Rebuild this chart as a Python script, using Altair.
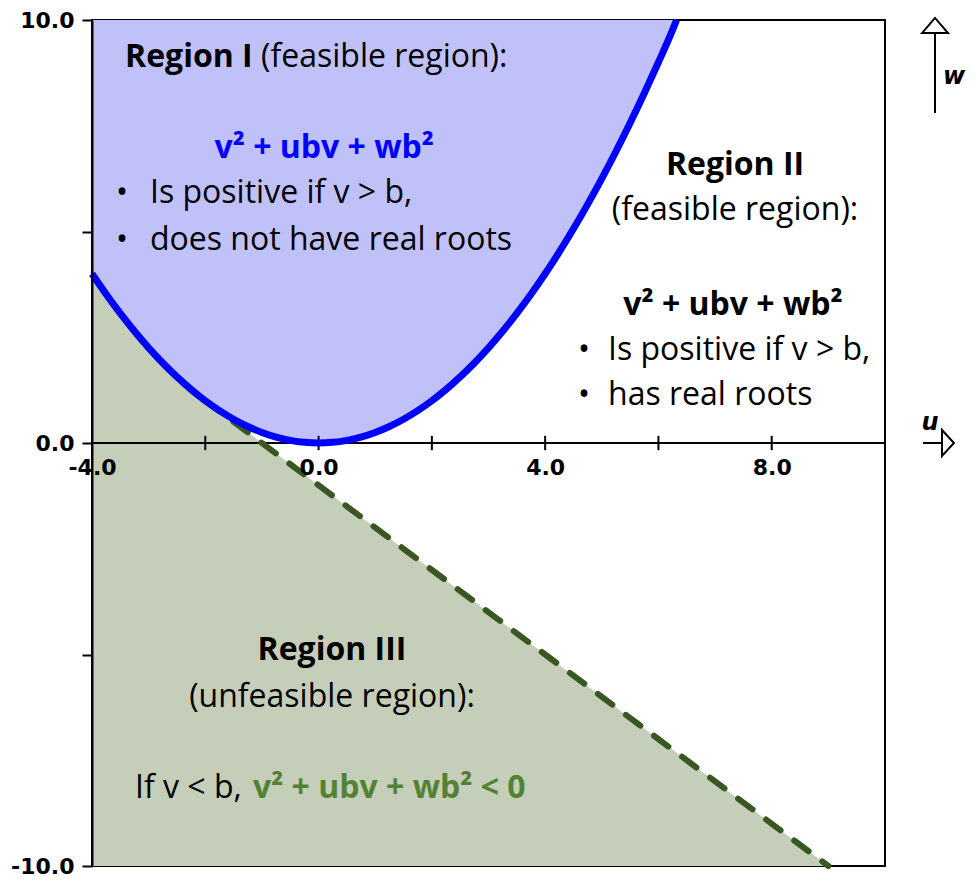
import altair as alt
import pandas as pd

# ---------------- data ----------------
# Boundary curve between Region I and Region II (w against u)
curve_u = [-4.0, -3.75, -3.5, -3.25, -3.0, -2.75, -2.5, -2.25, -2.0, -1.75, -1.5,
           -1.25, -1.0, -0.75, -0.5, -0.25, 0.0, 0.25, 0.5, 0.75, 1.0, 1.25, 1.5,
           1.75, 2.0, 2.25, 2.5, 2.75, 3.0, 3.25, 3.5, 3.75, 4.0, 4.25, 4.5, 4.75,
           5.0, 5.25, 5.5, 5.75, 6.0, 6.25, 6.32]
curve_w = [4.0, 3.516, 3.063, 2.641, 2.25, 1.891, 1.563, 1.266, 1.0, 0.766, 0.563,
           0.391, 0.25, 0.141, 0.063, 0.016, 0.0, 0.016, 0.063, 0.141, 0.25, 0.391,
           0.563, 0.766, 1.0, 1.266, 1.563, 1.891, 2.25, 2.641, 3.063, 3.516, 4.0,
           4.516, 5.063, 5.641, 6.25, 6.891, 7.563, 8.266, 9.0, 9.766, 10.0]

# Upper edge of Region III (curve up to the tangent point, then the dashed line)
region3_u = [-4.0, -3.75, -3.5, -3.25, -3.0, -2.75, -2.5, -2.25, -2.0, 9.0]
region3_w = [4.0, 3.516, 3.063, 2.641, 2.25, 1.891, 1.563, 1.266, 1.0, -10.0]

# Dashed boundary line
line_u = [-2.0, 9.0]
line_w = [1.0, -10.0]

# Axis ticks / labels
xtick_u = [-2, 0, 2, 4, 6, 8]
xlabel_u = [-4, 0, 4, 8]
ytick_w = [-10, -5, 0, 5, 10]

# ---------------- styling ----------------
TXT = "Open Sans"
AX = "DejaVu Sans"
BLUE_FILL = "#C1C1FA"
GREEN_FILL = "#C5CEB9"
BLUE = "#0000FF"
DARK_GREEN = "#385723"
TEXT_GREEN = "#548235"

x_scale = alt.Scale(domain=[-4, 10], nice=False, zero=False)
y_scale = alt.Scale(domain=[-10, 10], nice=False, zero=False)

lab_expr = "(datum.value < 0 ? '-' : '') + format(abs(datum.value), '.1f')"

x_axis = alt.Axis(values=xlabel_u, labelExpr=lab_expr, offset=-423, domain=False,
                  ticks=False, grid=False, title=None, labelPadding=14,
                  labelFlush=False, zindex=1)
y_axis = alt.Axis(values=ytick_w,
                  labelExpr="datum.value % 10 == 0 ? " + lab_expr + " : ''",
                  grid=False, title=None, domainColor="black", domainWidth=2,
                  tickColor="black", tickWidth=2, tickSize=10, labelPadding=8,
                  labelFlush=False, zindex=1)

df_curve = pd.DataFrame({"u": curve_u, "w": curve_w})
df_r3 = pd.DataFrame({"u": region3_u, "w": region3_w})
df_line = pd.DataFrame({"u": line_u, "w": line_w})
df_ticks = pd.DataFrame({"u": xtick_u})
one = pd.DataFrame({"k": [0]})

region3 = alt.Chart(df_r3).mark_area(color=GREEN_FILL, orient="vertical", opacity=1).encode(
    x=alt.X("u:Q", scale=x_scale, axis=x_axis, title=None),
    y=alt.Y("w:Q", scale=y_scale, axis=y_axis, title=None),
    y2=alt.datum(-10),
)

region1 = alt.Chart(df_curve).mark_area(color=BLUE_FILL, orient="vertical", opacity=1).encode(
    x=alt.X("u:Q", title=None), y=alt.Y("w:Q", title=None), y2=alt.datum(10)
)

axis_line = alt.Chart(one).mark_rule(color="black", strokeWidth=2).encode(y=alt.datum(0))

ticks = alt.Chart(df_ticks).mark_rule(color="black", strokeWidth=2).encode(
    x=alt.X("u:Q", title=None), y=alt.datum(0.17), y2=alt.datum(-0.17)
)

dashed = alt.Chart(df_line).mark_line(color=DARK_GREEN, strokeWidth=6,
                                      strokeDash=[18, 17], strokeCap="round").encode(
    x=alt.X("u:Q", title=None), y=alt.Y("w:Q", title=None)
)

curve = alt.Chart(df_curve).mark_line(color=BLUE, strokeWidth=7,
                                      interpolate="monotone").encode(
    x=alt.X("u:Q", title=None), y=alt.Y("w:Q", title=None)
)


def note(txt, u, w, size=32, weight="normal", color="black", align="left",
         font=TXT, style="normal", baseline="alphabetic"):
    return alt.Chart(one).mark_text(
        text=txt, fontSize=size, fontWeight=weight, color=color, align=align,
        baseline=baseline, font=font, fontStyle=style, clip=False
    ).encode(x=alt.datum(u), y=alt.datum(w))


notes = [
    note("Region I", -3.417, 8.889, weight="bold"),
    note("(feasible region):", -1.016, 8.889),
    note("v² + ubv + wb²", 0.10, 6.738, weight="bold", color=BLUE, align="center"),
    note("•", -3.576, 5.674),
    note("Is positive if v > b,", -2.976, 5.674),
    note("•", -3.576, 4.563),
    note("does not have real roots", -2.976, 4.563),
    note("Region II", 7.352, 6.336, weight="bold", align="center"),
    note("(feasible region):", 7.352, 5.272, align="center"),
    note("v² + ubv + wb²", 7.317, 3.026, weight="bold", align="center"),
    note("•", 4.58, 1.962),
    note("Is positive if v > b,", 5.11, 1.962),
    note("•", 4.58, 0.898),
    note("has real roots", 5.11, 0.898),
    note("Region III", 0.237, -5.130, weight="bold", align="center"),
    note("(unfeasible region):", 0.237, -6.241, align="center"),
    note("If v < b,", -3.241, -8.392),
    note("v² + ubv + wb² < 0", -1.158, -8.392, weight="bold", color=TEXT_GREEN),
    # axis direction markers
    note("u", 10.795, 0.473, size=24, weight="bold", style="italic", font=AX,
         align="center", baseline="middle"),
    note("w", 11.22, 8.652, size=24, weight="bold", style="italic", font=AX,
         align="center", baseline="middle"),
]

u_arrow_line = alt.Chart(one).mark_rule(color="black", strokeWidth=2, clip=False).encode(
    x=alt.datum(10.671), x2=alt.datum(11.042), y=alt.datum(0)
)
u_arrow_head = alt.Chart(one).mark_point(
    shape="M -0.46 -1 L 0.46 0 L -0.46 1 Z", size=676, filled=True, fill="white",
    stroke="black", strokeWidth=2, opacity=1, clip=False
).encode(x=alt.datum(11.112), y=alt.datum(0))

w_arrow_line = alt.Chart(one).mark_rule(color="black", strokeWidth=2, clip=False).encode(
    x=alt.datum(10.883), y=alt.datum(7.801), y2=alt.datum(9.693)
)
w_arrow_head = alt.Chart(one).mark_point(
    shape="M -1 0.58 L 0 -0.58 L 1 0.58 Z", size=676, filled=True, fill="white",
    stroke="black", strokeWidth=2, opacity=1, clip=False
).encode(x=alt.datum(10.883), y=alt.datum(9.87))

chart = alt.layer(
    region3, region1, axis_line, ticks, dashed, curve, *notes,
    u_arrow_line, u_arrow_head, w_arrow_line, w_arrow_head
).properties(
    width=793, height=846,
    autosize=alt.AutoSizeParams(type="none"),
    padding={"left": 84, "top": 12, "right": 82, "bottom": 15},
).configure_view(
    stroke="black", strokeWidth=2
).configure_axis(
    labelFont=AX, labelFontSize=22, labelFontWeight="bold", labelColor="black"
)

chart.save("out.html", embed_options={"renderer": "svg", "actions": False})
